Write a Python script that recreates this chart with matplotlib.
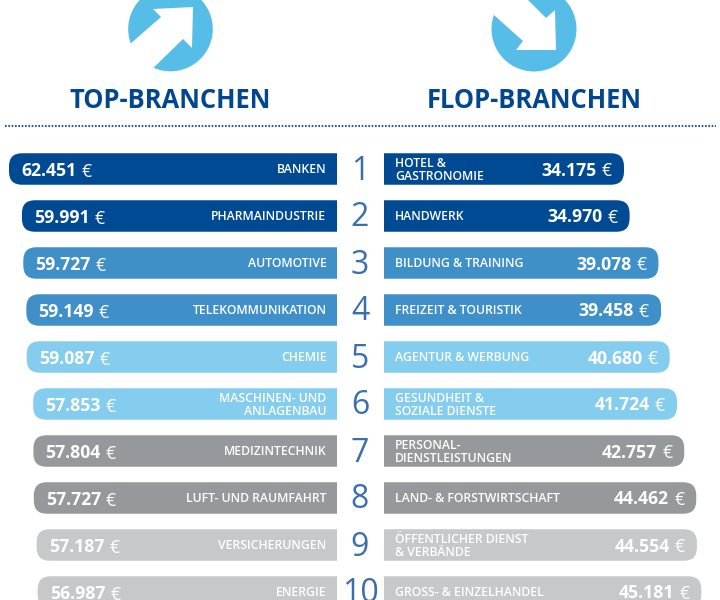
import matplotlib
matplotlib.use("Agg")
import matplotlib.pyplot as plt
from matplotlib.patches import FancyBboxPatch, Circle, Polygon

plt.rcParams['font.family'] = ['Open Sans', 'DejaVu Sans']

top_labels = ["BANKEN", "PHARMAINDUSTRIE", "AUTOMOTIVE", "TELEKOMMUNIKATION", "CHEMIE",
              "MASCHINEN- UND\nANLAGENBAU", "MEDIZINTECHNIK", "LUFT- UND RAUMFAHRT",
              "VERSICHERUNGEN", "ENERGIE"]
top_values = [62451, 59991, 59727, 59149, 59087, 57853, 57804, 57727, 57187, 56987]
flop_labels = ["HOTEL &\nGASTRONOMIE", "HANDWERK", "BILDUNG & TRAINING", "FREIZEIT & TOURISTIK",
               "AGENTUR & WERBUNG", "GESUNDHEIT &\nSOZIALE DIENSTE", "PERSONAL-\nDIENSTLEISTUNGEN",
               "LAND- & FORSTWIRTSCHAFT", "ÖFFENTLICHER DIENST\n& VERBÄNDE", "GROSS- & EINZELHANDEL"]
flop_values = [34175, 34970, 39078, 39458, 40680, 41724, 42757, 44462, 44554, 45181]
ranks = list(range(1, 11))
colors = ["#004a94", "#004a94", "#3f8fc8", "#3f8fc8", "#85cdee", "#85cdee",
          "#96999c", "#96999c", "#c6c8ca", "#c6c8ca"]
NAVY = "#00478f"

W, H = 720, 600
fig = plt.figure(figsize=(W / 100, H / 100), dpi=100, facecolor="white")
PT = 0.72
ROW = 47.0
Y0 = 169.0
AX_TOP = 145.0
ylim = ((H - Y0) / ROW, (AX_TOP - Y0) / ROW)
BAR_H = 31.5 / ROW
R = 13.0
LAB_FS = 8.85
VAL_FS = 12.7


def fmt(v):
    return f"{v:,}".replace(",", ".")


def make_axes(x0, x1, xlim):
    ax = fig.add_axes([x0 / W, 0, (x1 - x0) / W, (H - AX_TOP) / H])
    ax.set_xlim(*xlim)
    ax.set_ylim(*ylim)
    ax.axis("off")
    return ax


def draw_bars(ax, values, xperpx):
    # the rounded box starts beyond the axes edge, so the inner end is cut square
    for i, v in enumerate(values):
        over = 2 * R * xperpx
        ax.add_patch(FancyBboxPatch(
            (-over, i - BAR_H / 2), v + over, BAR_H,
            boxstyle=f"round,pad=0,rounding_size={R * xperpx}",
            mutation_aspect=(1 / ROW) / xperpx,
            facecolor=colors[i], edgecolor="none"))


# left panel
left_scale = 328.0 / top_values[0]
axL = make_axes(9, 337, (top_values[0], 0))
draw_bars(axL, top_values, 1 / left_scale)
for i, (lab, v) in enumerate(zip(top_labels, top_values)):
    axL.annotate(lab, (0, i), xytext=(-10.5 * PT, -0.7 * PT), textcoords="offset points",
                 ha="right", va="center", color="white", fontsize=LAB_FS,
                 linespacing=1.0, fontweight="semibold")
    t = axL.annotate(fmt(v), (v, i), xytext=(12 * PT, -2.4 * PT), textcoords="offset points",
                     ha="left", va="center", color="white", fontsize=VAL_FS, fontweight="bold")
    axL.annotate("€", xy=(1, 0.45), xycoords=t, xytext=(5 * PT, 0), textcoords="offset points",
                 ha="left", va="center", color="white", fontsize=VAL_FS)

# right panel
right_scale = 240.0 / flop_values[0]
axR = make_axes(384, 720, (0, 336 / right_scale))
draw_bars(axR, flop_values, 1 / right_scale)
for i, (lab, v) in enumerate(zip(flop_labels, flop_values)):
    axR.annotate(lab, (0, i), xytext=(11 * PT, -0.7 * PT), textcoords="offset points",
                 ha="left", va="center", color="white", fontsize=LAB_FS,
                 linespacing=1.0, fontweight="semibold")
    e = axR.annotate("€", (v, i), xytext=(-12 * PT, -2.4 * PT), textcoords="offset points",
                     ha="right", va="center", color="white", fontsize=VAL_FS)
    axR.annotate(fmt(v), xy=(0, 0.55), xycoords=e, xytext=(-5 * PT, 0), textcoords="offset points",
                 ha="right", va="center", color="white", fontsize=VAL_FS, fontweight="bold")

# overlay in pixel coordinates: icons, headings, separator, ranks
ov = fig.add_axes([0, 0, 1, 1], zorder=-1)
ov.set_xlim(0, W)
ov.set_ylim(H, 0)
ov.axis("off")
SKY = "#55bde8"
ov.add_patch(Circle((170.5, 29), 42.3, color=SKY, lw=0))
ov.add_patch(Polygon([(193, 7), (153, 9), (161, 17), (122, 51), (144, 77),
                      (183, 39), (192, 48)], color="white", lw=0))
ov.add_patch(Circle((534, 29), 42.5, color=SKY, lw=0))
ov.add_patch(Polygon([(485, 7), (523, 41), (516, 50), (556, 50), (555, 10),
                      (546, 18), (518, -10), (500, -10)], color="white", lw=0))
ov.text(170.5, 101, "TOP-BRANCHEN", ha="center", va="center", color=NAVY,
        fontsize=18.4, fontweight="bold")
ov.text(534, 101, "FLOP-BRANCHEN", ha="center", va="center", color=NAVY,
        fontsize=18.4, fontweight="bold")
ov.plot([5, 716], [126, 126], color="#1b5c9e", lw=1.5, ls=(0, (0.8, 0.8)))
for i, r in enumerate(ranks):
    ov.text(360, Y0 + ROW * i + 2, str(r), ha="center", va="center", color="#3a6fab",
            fontsize=23, family=["Liberation Sans Narrow", "Open Sans"])

fig.savefig("out.png", dpi=100, facecolor="white")
